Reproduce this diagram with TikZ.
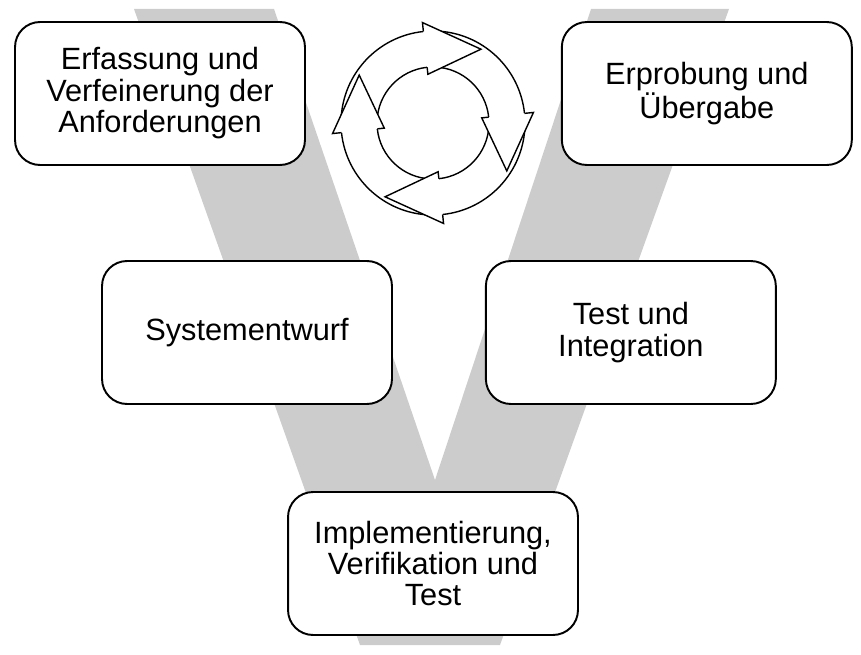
\documentclass[tikz,border=0pt]{standalone}
\usepackage{fontspec}
\setmainfont{Liberation Sans}
\usepackage{tikz}
\usetikzlibrary{positioning}

\begin{document}
\begin{tikzpicture}[
                x = 0.02cm, y = -0.02cm,
    node distance = 1.9cm and 1.84cm,
      phase/.style = {rectangle, draw, fill=white, rounded corners=0.5cm, line width=1.1pt,
                      minimum width=5.8cm, minimum height=2.86cm, align=center,
                      font=\fontsize{17.5}{17.9}\selectfont},
     vshape/.style = {fill=black!20},
       ring/.style = {line width=0.8pt, line join=miter}
                        ]
\useasboundingbox (0,0) rectangle (861,655);
\fill[vshape] (134,9) -- (274,9) -- (435,480) -- (591,9) -- (729,9) -- (500,645) -- (360,645) -- cycle;
\node (req) [phase] at (160,93.5) {Erfassung und\\Verfeinerung der\\Anforderungen};
\node (acc) [phase, right=5.1cm of req] {Erprobung und\\Übergabe};
\node (sys) [phase] at (247,332.5) {Systementwurf};
\node (integ) [phase, right=of sys] {Test und\\Integration};
\node (impl) [phase] at (433,563.5) {Implementierung,\\Verifikation und\\Test};
\begin{scope}[shift={(433,123)}, y=0.02cm]
\foreach \ang/\st in {96/178, 6/88, -84/-2, -174/-92}
  {
  \fill[white] (\st:92) arc[start angle=\st, end angle=\ang, radius=92] -- (\ang:56)
               arc[start angle=\ang, end angle=\st, radius=56] -- cycle;
  \draw[ring] (\st:92) arc[start angle=\st, end angle=\ang, radius=92];
  \draw[ring] (\st:56) arc[start angle=\st, end angle=\ang, radius=56];
  }
\foreach \ang in {96, 6, -84, -174}
  \filldraw[ring, fill=white] (\ang:92) -- (\ang:101) -- (\ang-39:88) -- (\ang:49) -- (\ang:56);
\end{scope}
\end{tikzpicture}
\end{document}
